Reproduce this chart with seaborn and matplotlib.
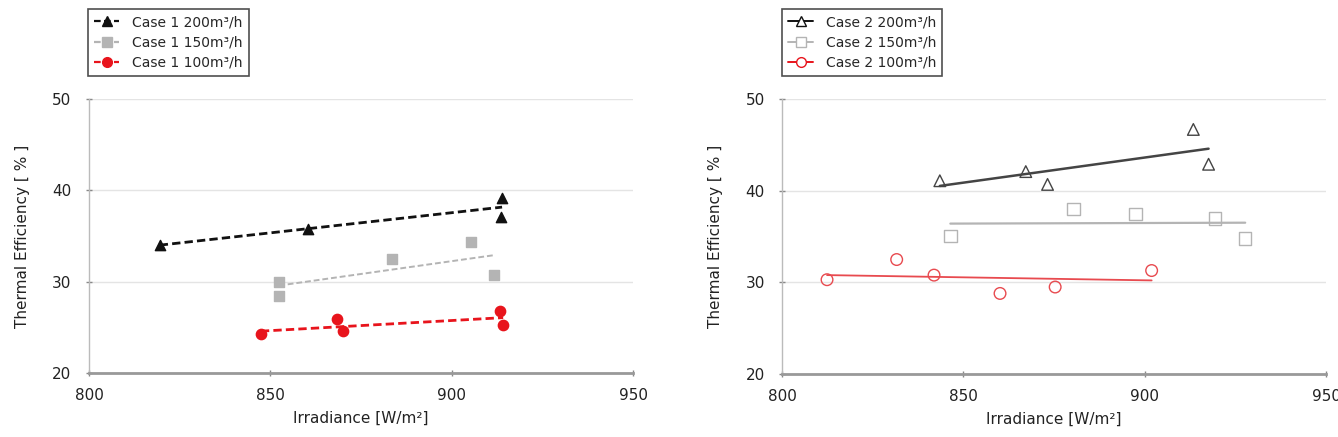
import numpy as np
import pandas as pd
import matplotlib
matplotlib.use("Agg")
import matplotlib.pyplot as plt
import seaborn as sns
from matplotlib.lines import Line2D

# Case 1 (left panel)
c1_200_x = [819.5, 860.4, 913.9, 913.5]
c1_200_y = [34.0, 35.8, 39.2, 37.1]
c1_150_x = [852.4, 852.4, 883.6, 905.3, 911.6]
c1_150_y = [30.0, 28.4, 32.5, 34.3, 30.7]
c1_100_x = [847.4, 868.4, 870.0, 913.3, 914.2]
c1_100_y = [24.3, 25.9, 24.6, 26.8, 25.2]

# Case 2 (right panel)
c2_200_x = [843.5, 867.2, 873.2, 913.4, 917.6]
c2_200_y = [41.1, 42.1, 40.7, 46.7, 42.9]
c2_150_x = [846.4, 880.4, 897.5, 919.4, 927.7]
c2_150_y = [35.1, 38.0, 37.5, 37.0, 34.8]
c2_100_x = [812.4, 831.6, 841.9, 860.1, 875.3, 901.9]
c2_100_y = [30.3, 32.5, 30.8, 28.8, 29.5, 31.3]

labels_1 = ["Case 1 200m³/h", "Case 1 150m³/h", "Case 1 100m³/h"]
labels_2 = ["Case 2 200m³/h", "Case 2 150m³/h", "Case 2 100m³/h"]

x_ticks = [800, 850, 900, 950]
y_ticks = [20, 30, 40, 50]

BLACK = "#111111"
GREY = "#b4b4b4"
RED = "#e8141c"
RED2 = "#e84a4f"

sns.set_theme(style="white")
plt.rcParams["font.family"] = ["DejaVu Sans"]

fig = plt.figure(figsize=(13.38, 4.37), dpi=100)
ax1 = fig.add_axes([0.0665, 0.1465, 0.4066, 0.627])
ax2 = fig.add_axes([0.5845, 0.144, 0.4066, 0.629])


def series(ax, xs, ys, marker, color, filled, ls, lw, ms):
    df = pd.DataFrame({"x": xs, "y": ys})
    face = color if filled else "none"
    sns.regplot(data=df, x="x", y="y", ax=ax, ci=None, marker=marker,
                scatter_kws=dict(s=ms, facecolors=face, edgecolors=color,
                                 linewidths=1.0, alpha=1, zorder=3),
                line_kws=dict(color=color, ls=ls, lw=lw, zorder=2))


# left panel: filled markers, dashed fits
series(ax1, c1_200_x, c1_200_y, "^", BLACK, True, (0, (3, 1.5)), 2.0, 55)
series(ax1, c1_150_x, c1_150_y, "s", GREY, True, (0, (3, 1.5)), 1.4, 55)
series(ax1, c1_100_x, c1_100_y, "o", RED, True, (0, (3, 1.5)), 2.0, 55)

# right panel: open markers, solid fits
series(ax2, c2_200_x, c2_200_y, "^", "#444444", False, "-", 1.8, 70)
series(ax2, c2_150_x, c2_150_y, "s", GREY, False, "-", 1.6, 80)
series(ax2, c2_100_x, c2_100_y, "o", RED2, False, "-", 1.3, 70)

for ax in (ax1, ax2):
    ax.set_xlim(800, 950)
    ax.set_ylim(20, 50)
    ax.set_xticks(x_ticks)
    ax.set_yticks(y_ticks)
    ax.set_xlabel("Irradiance [W/m²]", fontsize=11, color="#222222",
                  labelpad=6)
    ax.set_ylabel("Thermal Efficiency [ % ]", fontsize=11, color="#222222",
                  labelpad=16)
    ax.yaxis.grid(True, color="#e4e4e4", lw=1.0)
    ax.set_axisbelow(True)
    for s in ("top", "right"):
        ax.spines[s].set_visible(False)
    ax.spines["left"].set_color("#bbbbbb")
    ax.spines["left"].set_linewidth(1.0)
    ax.spines["bottom"].set_color("#999999")
    ax.spines["bottom"].set_linewidth(2.0)
    ax.tick_params(axis="both", labelsize=11, labelcolor="#222222",
                   color="#888888", length=5, width=1.0, direction="inout",
                   left=True, bottom=True)
    ax.tick_params(axis="y", pad=10)
    ax.tick_params(axis="x", pad=8)

h1 = [
    Line2D([], [], color=BLACK, ls=(0, (3, 1.5)), lw=1.6, marker="^", ms=7),
    Line2D([], [], color=GREY, ls=(0, (3, 1.5)), lw=1.6, marker="s", ms=7),
    Line2D([], [], color=RED, ls=(0, (3, 1.5)), lw=1.6, marker="o", ms=7),
]
h2 = [
    Line2D([], [], color=BLACK, ls="-", lw=1.4, marker="^", ms=7, mfc="white"),
    Line2D([], [], color=GREY, ls="-", lw=1.4, marker="s", ms=7, mfc="white"),
    Line2D([], [], color=RED, ls="-", lw=1.4, marker="o", ms=7, mfc="white"),
]

for ax, h, lab, x0 in ((ax1, h1, labels_1, 88), (ax2, h2, labels_2, 782)):
    leg = fig.legend(h, lab, loc="upper left",
                     bbox_to_anchor=(x0 / 1338, 1 - 9 / 437),
                     borderaxespad=0, fontsize=10, frameon=True,
                     fancybox=False, handlelength=1.8, labelspacing=0.45,
                     borderpad=0.45, handletextpad=0.9)
    leg.get_frame().set_edgecolor("#222222")
    leg.get_frame().set_linewidth(1.2)

fig.savefig("out.png", dpi=100)
